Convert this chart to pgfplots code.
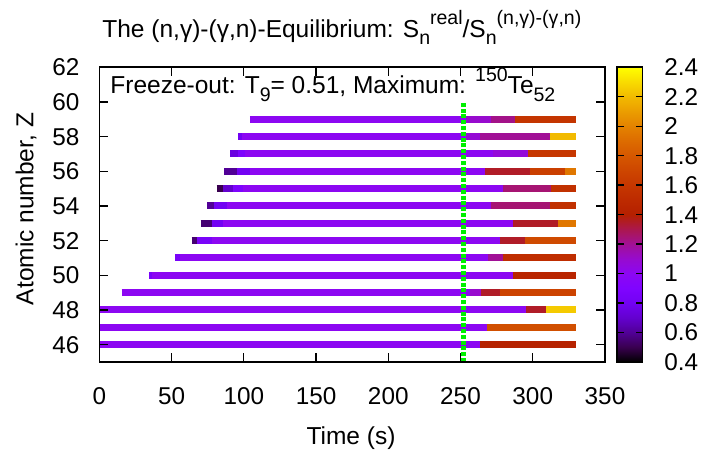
\documentclass[border=0pt]{standalone}
\usepackage{fontspec}
\setmainfont{Liberation Sans}
\usepackage{pgfplots}
\pgfplotsset{compat=1.18}
\newcommand{\sups}[1]{\raisebox{0.52em}{\fontsize{9.8}{10}\selectfont #1}}
\newcommand{\subs}[1]{\raisebox{-0.31em}{\fontsize{9.8}{10}\selectfont #1}}
\pgfplotsset{
  colormap={gp}{
    rgb=(0,0,0) rgb=(0.2236,0.0001,0.309) rgb=(0.3162,0.001,0.5878)
    rgb=(0.3873,0.0034,0.809) rgb=(0.4472,0.008,0.9511) rgb=(0.5,0.0156,1)
    rgb=(0.5477,0.027,0.9511) rgb=(0.5916,0.0429,0.809) rgb=(0.6325,0.064,0.5878)
    rgb=(0.6708,0.0911,0.309) rgb=(0.7071,0.125,0) rgb=(0.7416,0.1664,0)
    rgb=(0.7746,0.216,0) rgb=(0.8062,0.2746,0) rgb=(0.8367,0.343,0)
    rgb=(0.866,0.4219,0) rgb=(0.8944,0.512,0) rgb=(0.922,0.6141,0)
    rgb=(0.9487,0.729,0) rgb=(0.9747,0.8574,0) rgb=(1,1,0)
  },
  /pgf/number format/assume math mode=true,
  row/.style={mesh, line width=3.5bp, point meta=explicit, forget plot},
}
\begin{document}
\begin{tikzpicture}
\begin{axis}[
  at={(0,0)}, anchor=south west,
  width=252.85bp, height=147.35bp, scale only axis,
  xmin=0, xmax=350, ymin=45, ymax=62,
  xtick={0,50,100,150,200,250,300,350},
  ytick={46,48,50,52,54,56,58,60,62},
  tick align=inside, major tick length=4.5bp,
  axis on top,
  axis line style={line width=0.8bp},
  every tick/.style={line width=0.7bp, black},
  tick label style={font=\fontsize{12.2}{14}\selectfont},
  xticklabel style={yshift=-9.1bp},
  yticklabel style={xshift=-6.4bp},
  colormap name=gp,
  point meta min=0.4, point meta max=2.4,
  colorbar,
  colorbar shift/.style={xshift=6bp},
  colorbar style={
    at={(parent axis.north east)}, anchor=north west,
    width=12.8bp, height=147.35bp, scale only axis,
    ytick={0.4,0.6,0.8,1,1.2,1.4,1.6,1.8,2,2.2,2.4},
    ytick pos=both, yticklabel pos=right,
    tick align=inside, major tick length=3.3bp,
    axis line style={line width=0.8bp},
    every tick/.style={line width=0.7bp, black},
    yticklabel style={font=\fontsize{12.2}{14}\selectfont, xshift=7.4bp},
  },
]
% Z = 46
\addplot[row] coordinates {(0,46) [1] (263.3,46) [1] (263.3,46) [1.42] (330,46) [1.42]};
% Z = 47
\addplot[row] coordinates {(0,47) [1] (268.5,47) [1] (268.5,47) [1.75] (330,47) [1.75]};
% Z = 48
\addplot[row] coordinates {(0.5,48) [1] (295.6,48) [1] (295.6,48) [1.35] (309.4,48) [1.35] (309.4,48) [2.25] (330,48) [2.25]};
% Z = 49
\addplot[row] coordinates {(15.5,49) [1] (256.4,49) [1] (256.4,49) [1.1] (264.5,49) [1.1] (264.5,49) [1.35] (277.1,49) [1.35] (277.1,49) [1.68] (330,49) [1.68]};
% Z = 50
\addplot[row] coordinates {(34.6,50) [0.85] (36.4,50) [0.85] (36.4,50) [1] (286.3,50) [1] (286.3,50) [1.45] (330,50) [1.45]};
% Z = 51
\addplot[row] coordinates {(52.4,51) [0.85] (55.8,51) [0.85] (55.8,51) [1] (269,51) [1] (269,51) [1.2] (279.4,51) [1.2] (279.4,51) [1.52] (330,51) [1.52]};
% Z = 52
\addplot[row] coordinates {(63.9,52) [0.55] (67.3,52) [0.55] (67.3,52) [0.85] (77.7,52) [0.85] (77.7,52) [1] (277.1,52) [1] (277.1,52) [1.35] (294.4,52) [1.35] (294.4,52) [1.72] (330,52) [1.72]};
% Z = 53
\addplot[row] coordinates {(70.1,53) [0.55] (77.7,53) [0.55] (77.7,53) [0.8] (85.6,53) [0.8] (85.6,53) [1] (286.3,53) [1] (286.3,53) [1.35] (317.4,53) [1.35] (317.4,53) [1.95] (330,53) [1.95]};
% Z = 54
\addplot[row] coordinates {(74.7,54) [0.6] (79.3,54) [0.6] (79.3,54) [0.8] (88.1,54) [0.8] (88.1,54) [1] (271.4,54) [1] (271.4,54) [1.25] (311.7,54) [1.25] (311.7,54) [1.55] (330,54) [1.55]};
% Z = 55
\addplot[row] coordinates {(81.2,55) [0.5] (85.8,55) [0.5] (85.8,55) [0.7] (92.7,55) [0.7] (92.7,55) [0.88] (99.4,55) [0.88] (99.4,55) [1] (279.4,55) [1] (279.4,55) [1.25] (312.9,55) [1.25] (312.9,55) [1.55] (330,55) [1.55]};
% Z = 56
\addplot[row] coordinates {(86.5,56) [0.6] (95,56) [0.6] (95,56) [0.8] (104,56) [0.8] (104,56) [1] (266.7,56) [1] (266.7,56) [1.35] (297.9,56) [1.35] (297.9,56) [1.65] (322,56) [1.65] (322,56) [1.95] (330,56) [1.95]};
% Z = 57
\addplot[row] coordinates {(90.5,57) [0.75] (96,57) [0.75] (96,57) [0.88] (101,57) [0.88] (101,57) [1] (272.5,57) [1] (272.5,57) [1.07] (296.5,57) [1.07] (296.5,57) [1.6] (330,57) [1.6]};
% Z = 58
\addplot[row] coordinates {(96,58) [0.8] (98.5,58) [0.8] (98.5,58) [1] (254.1,58) [1] (254.1,58) [1.08] (263.3,58) [1.08] (263.3,58) [1.2] (311.7,58) [1.2] (311.7,58) [2.2] (330,58) [2.2]};
% Z = 59
\addplot[row] coordinates {(104.2,59) [1] (254.1,59) [1] (254.1,59) [1.1] (271.4,59) [1.1] (271.4,59) [1.22] (287.5,59) [1.22] (287.5,59) [1.58] (330,59) [1.58]};
% freeze-out time
\addplot[draw={rgb,255:red,0;green,240;blue,0}, line width=2.5bp, dash pattern=on 2bp off 0.9bp, forget plot] coordinates {(252.4,45) (252.4,60)};
\end{axis}
\node[anchor=base west, inner sep=0pt, font=\fontsize{12.3}{14}\selectfont] at (1.35bp,162.35bp) {The (n,γ)-(γ,n)-Equilibrium: S\subs{n}\sups{real}/S\subs{n}\sups{(n,γ)-(γ,n)}};
\node[anchor=base west, inner sep=0pt, font=\fontsize{12.3}{14}\selectfont] at (5.35bp,134bp) {Freeze-out: T\subs{9}= 0.51, Maximum: \sups{150}Te\subs{52}};
\node[anchor=base, inner sep=0pt, rotate=90, font=\fontsize{12.3}{14}\selectfont] at (-33bp,76.5bp) {Atomic number, Z};
\node[anchor=base, inner sep=0pt, font=\fontsize{12.3}{14}\selectfont] at (125.85bp,-41.15bp) {Time (s)};
\pgfresetboundingbox
\path[use as bounding box] (-49.65bp,-45.5bp) rectangle (302.35bp,181bp);
\end{tikzpicture}
\end{document}
